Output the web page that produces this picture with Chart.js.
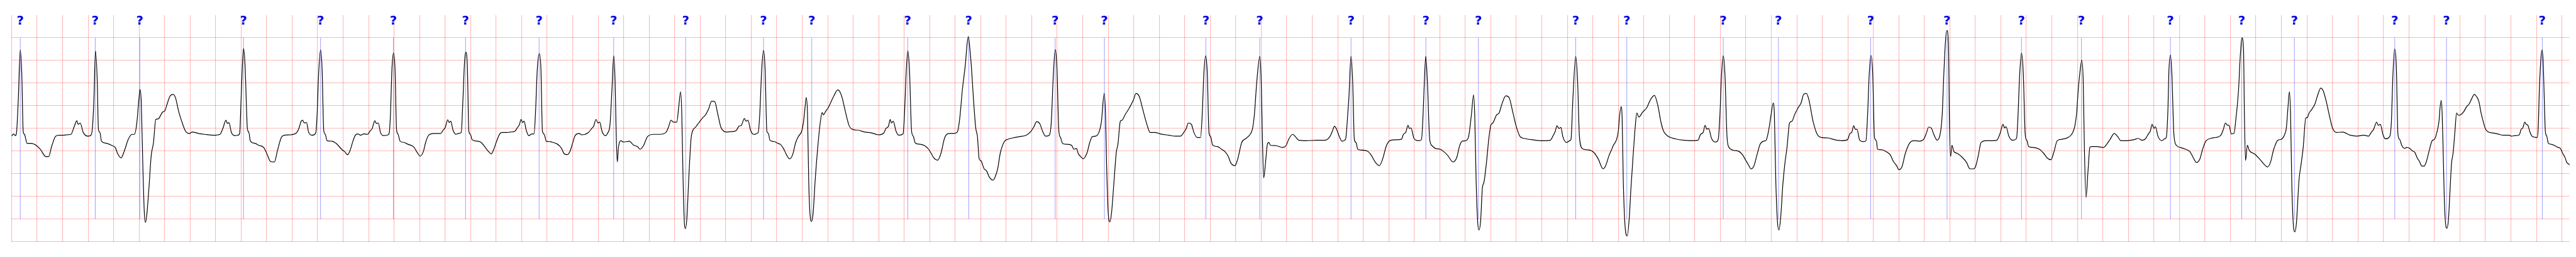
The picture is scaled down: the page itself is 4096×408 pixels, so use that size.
<!DOCTYPE html>
<html>
<head>
<meta charset="utf-8">
<title>ECG strip</title>
<script src="https://cdn.jsdelivr.net/npm/chart.js@4/dist/chart.umd.min.js"></script>
<style>
    html, body { margin: 0; padding: 0; background: #fff; }
    #stripContainer { width: 4096px; height: 408px; }
</style>
</head>
<body>
<div id="stripContainer"><canvas id="ecgChart" width="4096" height="408"></canvas></div>
<script>
/**
 * ECG strip - one lead, 20 s, with beat markers
 */

// Trace: [seconds, millivolts]
const trace0to4s = [
    [0,-0.17],[0.017,-0.12],[0.029,-0.16],[0.038,-0.11],[0.053,0.66],[0.068,1.73],[0.08,1.21],[0.091,-0.06],[0.101,-0.13],[0.122,-0.33],
    [0.154,-0.33],[0.196,-0.38],[0.226,-0.46],[0.268,-0.62],[0.29,-0.62],[0.316,-0.38],[0.346,-0.17],[0.376,-0.15],[0.4,-0.15],[0.436,-0.14],
    [0.466,-0.13],[0.49,0.03],[0.512,0.17],[0.522,0.09],[0.538,0.12],[0.562,-0.09],[0.598,-0.17],[0.622,-0.15],[0.634,0.01],[0.646,0.66],
    [0.658,1.71],[0.672,1.03],[0.681,-0.02],[0.693,-0.09],[0.705,-0.28],[0.747,-0.33],[0.789,-0.38],[0.813,-0.42],[0.831,-0.55],[0.859,-0.65],
    [0.885,-0.49],[0.915,-0.24],[0.945,-0.13],[0.963,-0.13],[0.981,0.09],[0.999,0.66],[1.007,0.86],[1.017,0.59],[1.029,-0.78],[1.041,-1.86],
    [1.05,-2.07],[1.062,-1.86],[1.077,-1.32],[1.095,-0.6],[1.113,-0.31],[1.131,0.2],[1.149,0.21],[1.184,0.36],[1.202,0.39],[1.22,0.54],
    [1.244,0.72],[1.268,0.75],[1.286,0.67],[1.31,0.38],[1.334,0.16],[1.364,-0.06],[1.394,-0.11],[1.418,-0.08],[1.466,-0.11],[1.514,-0.13],
    [1.586,-0.15],[1.634,-0.13],[1.657,0],[1.681,0.18],[1.693,0.11],[1.705,0.13],[1.723,-0.08],[1.753,-0.16],[1.775,-0.15],[1.789,-0.1],
    [1.8,0.66],[1.81,1.39],[1.819,1.76],[1.831,1.39],[1.842,0.48],[1.849,0],[1.861,-0.09],[1.873,-0.28],[1.911,-0.33],[1.935,-0.37],
    [1.977,-0.42],[2.001,-0.55],[2.031,-0.73],[2.061,-0.74],[2.085,-0.49],[2.115,-0.2],[2.139,-0.15],[2.187,-0.14],[2.229,-0.11],[2.253,0],
    [2.271,0.16],[2.283,0.18],[2.295,0.12],[2.313,0.13],[2.329,-0.08],[2.355,-0.15],[2.385,-0.1],[2.396,0.3],[2.408,1.21],[2.423,1.73],
    [2.435,1.32],[2.448,-0.04],[2.46,-0.13],[2.474,-0.27],[2.51,-0.28],[2.546,-0.33],[2.592,-0.47],[2.612,-0.51],[2.634,-0.58],[2.654,-0.49],
    [2.678,-0.27],[2.696,-0.15],[2.714,-0.12],[2.738,-0.15],[2.762,-0.12],[2.792,-0.13],[2.81,-0.06],[2.828,0],[2.849,0.17],[2.86,0.11],
    [2.876,0.12],[2.893,-0.09],[2.917,-0.16],[2.953,-0.14],[2.962,-0.09],[2.971,0.3],[2.983,1.32],[2.995,1.66],[3.007,1.32],[3.019,-0.02],
    [3.031,-0.13],[3.047,-0.28],[3.079,-0.31],[3.109,-0.35],[3.139,-0.38],[3.157,-0.42],[3.181,-0.53],[3.205,-0.61],[3.229,-0.51],[3.247,-0.31],
    [3.271,-0.15],[3.313,-0.11],[3.366,-0.11],[3.384,-0.04],[3.402,0.03],[3.42,0.19],[3.432,0.13],[3.444,0.16],[3.462,-0.04],[3.486,-0.13],
    [3.504,-0.11],[3.526,-0.09],[3.54,0.66],[3.552,1.46],[3.562,1.68],[3.574,1.39],[3.586,-0.06],[3.598,-0.13],[3.612,-0.25],[3.648,-0.28],
    [3.678,-0.3],[3.702,-0.37],[3.726,-0.46],[3.741,-0.51],[3.762,-0.56],[3.78,-0.47],[3.804,-0.28],[3.828,-0.12],[3.846,-0.09],[3.887,-0.09],
    [3.911,-0.08],[3.947,-0.06],[3.965,0.01],[3.983,0.09],[3.995,0.2],[4.007,0.13],[4.019,0.16],[4.036,-0.04],[4.057,-0.16],[4.079,-0.12],
    [4.097,-0.12],[4.108,0.3],[4.123,1.32],[4.139,1.65],[4.151,1.32],[4.163,-0.06],[4.177,-0.13],[4.193,-0.28],[4.223,-0.29],[4.247,-0.31],
    [4.277,-0.34],[4.295,-0.38],[4.313,-0.44],[4.331,-0.55],[4.357,-0.58],[4.379,-0.51],[4.397,-0.35],[4.421,-0.15],[4.451,-0.11],[4.472,-0.14]
];

const trace4to8s = [
    [4.52,-0.1],[4.55,0],[4.565,0.05],[4.583,0.2],[4.598,0.12],[4.612,0.14],[4.63,-0.06],[4.657,-0.16],[4.675,-0.1],[4.693,0.09],
    [4.708,0.85],[4.722,1.6],[4.733,1.03],[4.741,-0.06],[4.75,-0.74],[4.759,-0.42],[4.777,-0.27],[4.801,-0.3],[4.843,-0.28],[4.879,-0.37],
    [4.909,-0.4],[4.929,-0.46],[4.957,-0.37],[4.987,-0.18],[5.035,-0.13],[5.083,-0.13],[5.131,-0.09],[5.149,0.01],[5.172,0.18],[5.19,0.14],
    [5.217,0.14],[5.232,0.48],[5.247,0.81],[5.256,0.3],[5.266,-1.14],[5.277,-2.12],[5.284,-2.21],[5.296,-1.97],[5.31,-1.14],[5.328,-0.24],
    [5.34,-0.06],[5.364,0.03],[5.388,0.12],[5.418,0.23],[5.442,0.3],[5.466,0.43],[5.49,0.6],[5.514,0.59],[5.538,0.32],[5.562,0.03],
    [5.586,-0.06],[5.61,-0.08],[5.646,-0.07],[5.681,-0.05],[5.705,0.05],[5.723,0.07],[5.747,0.22],[5.759,0.16],[5.775,0.18],[5.795,-0.04],
    [5.819,-0.13],[5.855,-0.09],[5.867,0.3],[5.883,1.32],[5.897,1.72],[5.909,1.32],[5.923,-0.06],[5.935,-0.11],[5.947,-0.26],[5.981,-0.29],
    [6.011,-0.33],[6.029,-0.35],[6.053,-0.44],[6.077,-0.58],[6.101,-0.67],[6.125,-0.58],[6.149,-0.31],[6.172,-0.17],[6.196,-0.06],[6.211,0.16],
    [6.223,0.48],[6.232,0.68],[6.242,0.3],[6.251,-1.14],[6.263,-1.94],[6.274,-2.05],[6.286,-1.86],[6.302,-1.14],[6.322,-0.42],[6.345,0.2],
    [6.357,0.35],[6.366,0.3],[6.387,0.39],[6.403,0.45],[6.422,0.56],[6.449,0.72],[6.479,0.85],[6.495,0.81],[6.515,0.66],[6.534,0.43],
    [6.567,0.07],[6.594,-0.02],[6.64,-0.04],[6.692,-0.08],[6.745,-0.1],[6.798,-0.14],[6.837,-0.11],[6.857,0],[6.877,0.05],[6.89,0.2],
    [6.9,0.12],[6.914,0.16],[6.936,-0.06],[6.958,-0.15],[6.991,-0.12],[7.002,0.3],[7.015,1.21],[7.028,1.71],[7.041,1.32],[7.058,-0.06],
    [7.071,-0.17],[7.087,-0.32],[7.127,-0.35],[7.16,-0.38],[7.186,-0.44],[7.212,-0.55],[7.232,-0.65],[7.262,-0.7],[7.287,-0.56],[7.318,-0.2],
    [7.351,-0.11],[7.39,-0.11],[7.416,-0.08],[7.436,0.23],[7.456,0.85],[7.48,1.42],[7.493,1.86],[7.503,2.03],[7.515,1.75],[7.528,1.32],
    [7.542,0.7],[7.561,0.01],[7.574,-0.17],[7.588,-0.67],[7.601,-0.71],[7.627,-0.89],[7.647,-0.94],[7.667,-1.07],[7.696,-1.14],[7.713,-1.07],
    [7.733,-0.89],[7.753,-0.55],[7.785,-0.29],[7.811,-0.24],[7.851,-0.21],[7.904,-0.18],[7.956,-0.15],[7.989,-0.08],[8.016,0.03],[8.039,0.15],
    [8.062,0.11],[8.088,-0.08],[8.108,-0.17],[8.138,-0.15],[8.154,0.16],[8.167,1.03],[8.184,1.74],[8.197,1.39],[8.213,-0.06],[8.226,-0.2],
    [8.242,-0.33],[8.279,-0.35],[8.312,-0.37],[8.332,-0.46],[8.352,-0.44],[8.364,-0.55],[8.384,-0.62],[8.404,-0.67]
];

const trace8to12s = [
    [8.416,-0.64],[8.435,-0.53],[8.455,-0.31],[8.475,-0.18],[8.501,-0.17],[8.528,-0.08],[8.547,0.16],[8.568,0.77],[8.579,0.3],[8.587,-0.78],
    [8.6,-1.86],[8.613,-2.06],[8.626,-1.86],[8.646,-1.14],[8.663,-0.53],[8.676,-0.35],[8.695,0.16],[8.708,0.18],[8.732,0.3],[8.765,0.45],
    [8.798,0.63],[8.817,0.77],[8.844,0.7],[8.87,0.43],[8.903,0.09],[8.929,-0.09],[8.969,-0.09],[9.008,-0.12],[9.074,-0.15],[9.127,-0.17],
    [9.166,-0.17],[9.192,-0.09],[9.212,0],[9.228,0.12],[9.252,0.09],[9.272,-0.09],[9.298,-0.2],[9.324,-0.2],[9.337,0.3],[9.35,1.21],
    [9.364,1.6],[9.377,1.21],[9.39,-0.09],[9.403,-0.18],[9.419,-0.37],[9.456,-0.4],[9.489,-0.46],[9.515,-0.51],[9.542,-0.62],[9.561,-0.76],
    [9.594,-0.82],[9.614,-0.69],[9.647,-0.31],[9.68,-0.22],[9.713,-0.13],[9.732,0],[9.746,0.3],[9.765,1.03],[9.789,1.59],[9.8,1.03],
    [9.808,-0.06],[9.819,-1.09],[9.835,-0.71],[9.848,-0.35],[9.86,-0.31],[9.871,-0.37],[9.917,-0.38],[9.967,-0.42],[9.996,-0.37],[10.015,-0.24],
    [10.046,-0.13],[10.064,-0.17],[10.094,-0.26],[10.154,-0.27],[10.233,-0.26],[10.299,-0.26],[10.338,-0.18],[10.358,-0.06],[10.374,0.05],[10.391,-0.02],
    [10.411,-0.17],[10.433,-0.28],[10.454,-0.26],[10.464,-0.2],[10.48,0.38],[10.487,0.66],[10.504,1.59],[10.517,1.03],[10.53,-0.24],[10.543,-0.31],
    [10.557,-0.46],[10.599,-0.48],[10.638,-0.51],[10.665,-0.6],[10.691,-0.73],[10.726,-0.82],[10.75,-0.69],[10.783,-0.37],[10.816,-0.26],[10.862,-0.25],
    [10.899,-0.24],[10.915,-0.13],[10.934,-0.08],[10.951,0.07],[10.961,0],[10.974,0.01],[10.998,-0.22],[11.033,-0.27],[11.056,-0.25],[11.069,0.3],
    [11.079,1.03],[11.09,1.59],[11.103,1.03],[11.121,-0.24],[11.139,-0.38],[11.165,-0.44],[11.204,-0.46],[11.231,-0.51],[11.264,-0.6],[11.303,-0.74],
    [11.333,-0.64],[11.356,-0.38],[11.376,-0.28],[11.402,-0.27],[11.426,-0.18],[11.448,0.3],[11.465,0.74],[11.474,0.3],[11.485,-1.14],[11.497,-2.05],
    [11.507,-2.24],[11.52,-2.05],[11.534,-1.32],[11.547,-1.18],[11.567,-0.73],[11.584,-0.24],[11.6,0.07],[11.616,0.12],[11.646,0.3],[11.665,0.34],
    [11.685,0.52],[11.718,0.72],[11.744,0.68],[11.771,0.38],[11.797,0.07],[11.83,-0.18],[11.863,-0.22],[11.929,-0.25],[11.995,-0.27],[12.034,-0.27],
    [12.067,-0.26],[12.087,-0.17],[12.106,-0.06],[12.119,0.06],[12.134,0],[12.15,0.02],[12.165,-0.18],[12.194,-0.31],[12.218,-0.27],[12.229,-0.24],
    [12.244,0.66],[12.266,1.59],[12.281,1.03],[12.295,-0.17],[12.317,-0.44],[12.35,-0.47],[12.389,-0.49],[12.415,-0.55],[12.442,-0.67],[12.481,-0.89],
    [12.501,-0.82],[12.527,-0.6],[12.547,-0.47]
];

const trace12to16s = [
    [12.56,-0.38],[12.587,-0.24],[12.6,-0.06],[12.611,0.3],[12.622,0.48],[12.63,0.23],[12.639,-1.14],[12.653,-2.15],[12.67,-2.37],[12.686,-1.97],
    [12.699,-1.32],[12.718,-0.53],[12.732,0.01],[12.745,0.34],[12.761,0.25],[12.791,0.36],[12.824,0.46],[12.844,0.59],[12.863,0.68],[12.883,0.73],
    [12.909,0.52],[12.936,0.12],[12.955,-0.06],[12.995,-0.18],[13.048,-0.23],[13.113,-0.26],[13.179,-0.27],[13.225,-0.26],[13.245,-0.13],[13.265,-0.09],
    [13.281,0.07],[13.294,-0.02],[13.308,0],[13.331,-0.22],[13.361,-0.3],[13.383,-0.25],[13.397,0.3],[13.41,1.21],[13.423,1.6],[13.436,1.21],
    [13.453,-0.2],[13.469,-0.42],[13.502,-0.48],[13.548,-0.51],[13.574,-0.58],[13.601,-0.71],[13.62,-0.8],[13.64,-0.89],[13.663,-0.83],[13.686,-0.6],
    [13.712,-0.35],[13.739,-0.28],[13.759,-0.26],[13.778,-0.06],[13.798,0.3],[13.815,0.56],[13.824,0.3],[13.835,-1.14],[13.848,-2.05],[13.86,-2.24],
    [13.874,-1.94],[13.89,-1.25],[13.906,-0.78],[13.923,-0.42],[13.943,0.12],[13.962,0.16],[13.982,0.3],[14.009,0.45],[14.033,0.56],[14.055,0.76],
    [14.075,0.77],[14.095,0.63],[14.127,0.16],[14.16,-0.13],[14.193,-0.2],[14.246,-0.21],[14.298,-0.25],[14.351,-0.27],[14.397,-0.25],[14.417,-0.11],
    [14.43,-0.09],[14.446,0.06],[14.459,-0.02],[14.472,-0.02],[14.493,-0.26],[14.522,-0.29],[14.542,-0.27],[14.555,0.3],[14.568,1.21],[14.582,1.61],
    [14.595,1.21],[14.609,-0.2],[14.624,-0.27],[14.633,-0.46],[14.666,-0.47],[14.705,-0.52],[14.732,-0.58],[14.758,-0.73],[14.782,-0.82],[14.801,-0.91],
    [14.824,-0.85],[14.85,-0.56],[14.883,-0.33],[14.916,-0.27],[14.962,-0.28],[14.995,-0.24],[15.015,-0.11],[15.034,0.03],[15.054,0.01],[15.074,-0.13],
    [15.1,-0.26],[15.127,-0.08],[15.14,0.3],[15.153,1.21],[15.166,1.93],[15.177,2.16],[15.19,1.75],[15.196,0.3],[15.206,-0.62],[15.216,-0.37],
    [15.232,-0.51],[15.258,-0.55],[15.298,-0.64],[15.331,-0.75],[15.357,-0.89],[15.383,-0.89],[15.403,-0.83],[15.423,-0.6],[15.445,-0.31],[15.482,-0.27],
    [15.535,-0.27],[15.568,-0.26],[15.594,-0.11],[15.617,0.09],[15.629,0.01],[15.64,0.04],[15.663,-0.17],[15.692,-0.26],[15.723,-0.22],[15.732,0.12],
    [15.748,1.21],[15.762,1.66],[15.776,1.21],[15.791,-0.13],[15.805,-0.27],[15.818,-0.4],[15.857,-0.42],[15.903,-0.46],[15.936,-0.55],[15.963,-0.65],
    [15.993,-0.69],[16.015,-0.53],[16.042,-0.27],[16.075,-0.24],[16.127,-0.2],[16.16,-0.11],[16.18,0.05],[16.193,0.3],[16.207,0.85],[16.219,1.21],
    [16.235,1.5],[16.246,1.03],[16.255,-0.42],[16.268,-1.52],[16.283,-0.96],[16.298,-0.42],[16.312,-0.4],[16.351,-0.4],[16.404,-0.42],[16.43,-0.35],
    [16.457,-0.24],[16.489,-0.11],[16.516,-0.18],[16.542,-0.27],[16.588,-0.27],[16.641,-0.25],[16.678,-0.22]
];

const trace16to20s = [
    [16.707,-0.26],[16.733,-0.23],[16.759,-0.11],[16.772,-0.06],[16.786,0.09],[16.801,0],[16.812,0.04],[16.832,-0.17],[16.862,-0.27],[16.884,-0.23],
    [16.897,-0.2],[16.911,0.48],[16.917,1.21],[16.93,1.62],[16.941,1.21],[16.957,-0.13],[16.976,-0.37],[17.009,-0.42],[17.049,-0.46],[17.082,-0.51],
    [17.108,-0.64],[17.134,-0.75],[17.161,-0.67],[17.181,-0.47],[17.207,-0.28],[17.246,-0.22],[17.286,-0.2],[17.325,-0.15],[17.345,-0.02],[17.361,0.12],
    [17.378,0.07],[17.389,0.07],[17.407,-0.12],[17.428,-0.11],[17.444,0.23],[17.464,0.85],[17.477,1.57],[17.49,2.0],[17.503,1.75],[17.51,0.3],
    [17.519,-0.71],[17.533,-0.37],[17.549,-0.49],[17.589,-0.56],[17.628,-0.67],[17.661,-0.78],[17.691,-0.85],[17.714,-0.75],[17.74,-0.46],[17.773,-0.26],
    [17.799,-0.24],[17.826,-0.13],[17.839,0.01],[17.852,0.48],[17.863,0.81],[17.872,0.3],[17.881,-1.14],[17.892,-2.05],[17.905,-2.28],[17.918,-2.08],
    [17.938,-1.14],[17.955,-0.78],[17.971,-0.42],[17.991,0.23],[18.003,0.24],[18.017,0.34],[18.036,0.41],[18.063,0.54],[18.083,0.72],[18.109,0.89],
    [18.128,0.83],[18.155,0.56],[18.175,0.3],[18.201,0.01],[18.234,-0.09],[18.28,-0.08],[18.339,-0.15],[18.392,-0.17],[18.445,-0.15],[18.484,-0.17],
    [18.504,-0.09],[18.523,-0.02],[18.547,0.14],[18.56,0.07],[18.576,0.09],[18.596,-0.13],[18.615,-0.23],[18.649,-0.18],[18.662,0.12],[18.675,1.21],
    [18.688,1.75],[18.701,1.39],[18.714,-0.13],[18.727,-0.24],[18.745,-0.38],[18.767,-0.44],[18.78,-0.42],[18.807,-0.44],[18.825,-0.49],[18.847,-0.53],
    [18.865,-0.65],[18.883,-0.73],[18.901,-0.83],[18.919,-0.83],[18.937,-0.73],[18.959,-0.49],[18.982,-0.27],[19.0,-0.24],[19.017,-0.11],[19.036,0.16],
    [19.044,0.45],[19.053,0.62],[19.06,0.38],[19.068,-0.42],[19.077,-1.5],[19.086,-2.05],[19.098,-2.2],[19.11,-2.01],[19.12,-1.5],[19.134,-0.78],
    [19.147,-0.53],[19.161,-0.06],[19.174,0.34],[19.187,0.29],[19.205,0.3],[19.228,0.36],[19.25,0.47],[19.272,0.54],[19.295,0.67],[19.313,0.75],
    [19.331,0.7],[19.349,0.59],[19.366,0.34],[19.384,0.14],[19.402,-0.02],[19.425,-0.08],[19.46,-0.1],[19.496,-0.12],[19.541,-0.15],[19.586,-0.15],
    [19.604,-0.17],[19.63,-0.16],[19.666,-0.14],[19.68,-0.02],[19.693,0.01],[19.709,0.14],[19.72,0.09],[19.733,0.07],[19.747,-0.06],[19.765,-0.17],
    [19.805,-0.2],[19.814,0.01],[19.823,0.85],[19.836,1.57],[19.845,1.73],[19.854,1.39],[19.863,0.48],[19.87,-0.06],[19.881,-0.17],[19.894,-0.33],
    [19.917,-0.35],[19.944,-0.38],[19.97,-0.42],[19.988,-0.44],[20.006,-0.55],[20.024,-0.64],[20.038,-0.75],[20.051,-0.78],[20.06,-0.81]
];

// Beat markers (seconds) and the symbol printed above each one
const beatTimes = [
    0.068, 0.656, 1.006, 1.819, 2.423, 2.994, 3.56, 4.137, 4.722, 5.286,
    5.897, 6.275, 7.028, 7.506, 8.184, 8.57, 9.366, 9.788, 10.504, 11.091,
    11.503, 12.266, 12.667, 13.423, 13.856, 14.579, 15.178, 15.762, 16.232, 16.93,
    17.489, 17.902, 18.689, 19.095, 19.846
];
const beatSymbol = '?';

// Paper: 0.2 s and 0.5 mV per box
const timeRange = [0, 20.06];
const timeStep = 0.2;
const mvRange = [-2.5, 2.5];
const mvStep = 0.5;
const markerSpan = [-2, 2];
const labelLevel = 2.29;

class EcgStripView {
    constructor(canvasId) {
        this.canvas = document.getElementById(canvasId);
        this.chart = null;
    }

    buildPoints() {
        const all = [...trace0to4s, ...trace4to8s, ...trace8to12s, ...trace12to16s, ...trace16to20s];
        return all.map(([t, mv]) => ({ x: t, y: mv }));
    }

    // grid ticks on the paper boxes; the top box edge has no line
    gridTicks(min, max, step, dropMax) {
        const ticks = [];
        const count = Math.floor((max - min) / step + 1e-6);
        for (let i = 0; i <= count; i++) {
            const value = Math.round((min + i * step) * 1000) / 1000;
            if (dropMax && value >= max) continue;
            ticks.push({ value });
        }
        return ticks;
    }

    markerPlugin() {
        return {
            id: 'beatMarkers',
            beforeDatasetsDraw(chart) {
                const { ctx, scales: { x, y } } = chart;
                const top = y.getPixelForValue(markerSpan[1]);
                const bottom = y.getPixelForValue(markerSpan[0]);
                ctx.save();
                ctx.strokeStyle = 'rgba(0, 0, 255, 0.55)';
                ctx.lineWidth = 0.7;
                beatTimes.forEach(t => {
                    const px = x.getPixelForValue(t);
                    ctx.beginPath();
                    ctx.moveTo(px, top);
                    ctx.lineTo(px, bottom);
                    ctx.stroke();
                });
                ctx.restore();
            },
            afterDatasetsDraw(chart) {
                const { ctx, scales: { x, y } } = chart;
                ctx.save();
                ctx.fillStyle = '#0000e6';
                ctx.font = 'bold 20px "DejaVu Sans"';
                ctx.textAlign = 'center';
                ctx.textBaseline = 'alphabetic';
                beatTimes.forEach(t => {
                    ctx.fillText(beatSymbol, x.getPixelForValue(t), y.getPixelForValue(labelLevel));
                });
                ctx.restore();
            }
        };
    }

    render() {
        const gridColor = 'rgba(255, 0, 0, 0.28)';
        const xTicks = this.gridTicks(timeRange[0], timeRange[1], timeStep, false);
        const yTicks = this.gridTicks(mvRange[0], mvRange[1], mvStep, true);

        this.chart = new Chart(this.canvas, {
            type: 'line',
            data: {
                datasets: [{
                    data: this.buildPoints(),
                    borderColor: '#000',
                    borderWidth: 1.2,
                    pointRadius: 0,
                    fill: false,
                    cubicInterpolationMode: 'monotone'
                }]
            },
            options: {
                responsive: false,
                animation: false,
                events: [],
                parsing: false,
                layout: { padding: { left: 18.4, right: 10.2, top: 23.9, bottom: 24.1 } },
                plugins: { legend: { display: false }, tooltip: { enabled: false } },
                scales: {
                    x: {
                        type: 'linear',
                        min: timeRange[0],
                        max: timeRange[1],
                        afterBuildTicks: scale => { scale.ticks = xTicks; },
                        ticks: { display: false },
                        grid: { color: gridColor, lineWidth: 1.1, drawTicks: false },
                        border: { display: false }
                    },
                    y: {
                        type: 'linear',
                        min: mvRange[0],
                        max: mvRange[1],
                        afterBuildTicks: scale => { scale.ticks = yTicks; },
                        ticks: { display: false },
                        grid: { color: gridColor, lineWidth: 1.1, drawTicks: false },
                        border: { display: false }
                    }
                }
            },
            plugins: [this.markerPlugin()]
        });
    }
}

new EcgStripView('ecgChart').render();
</script>
</body>
</html>
